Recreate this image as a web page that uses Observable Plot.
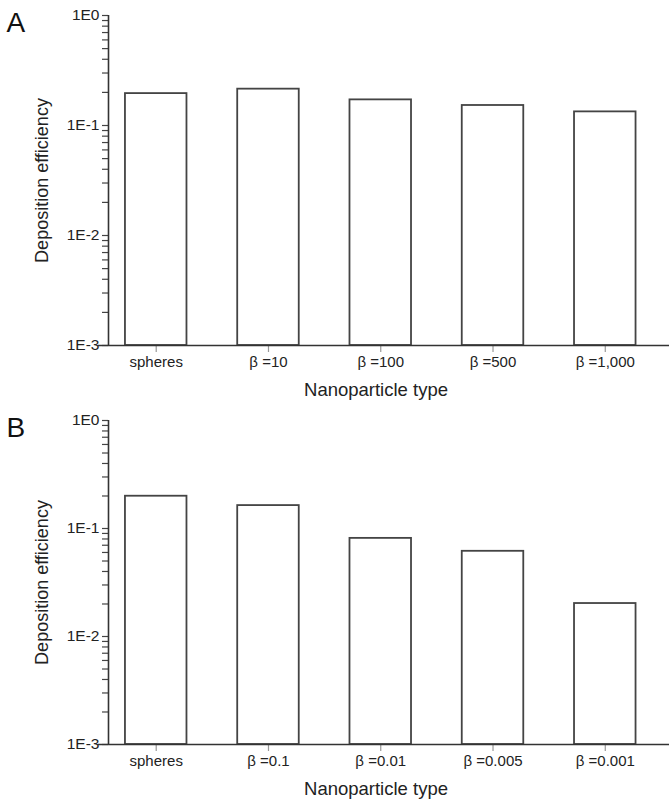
<!DOCTYPE html>
<html>
<head>
<meta charset="utf-8">
<script src="https://cdn.jsdelivr.net/npm/d3@7"></script>
<script src="https://cdn.jsdelivr.net/npm/@observablehq/plot@0.6"></script>
<style>
  body { margin: 0; background: #fff; width: 669px; height: 806px; position: relative; overflow: hidden; }
  .panel { position: absolute; left: 0; }
</style>
</head>
<body>
<div id="A" class="panel" style="top:0px"></div>
<div id="B" class="panel" style="top:405px"></div>
<script>
// ---- data ----
const labelsA = ["spheres", "β =10", "β =100", "β =500", "β =1,000"];
const valuesA = [0.195, 0.214, 0.171, 0.152, 0.133];
const labelsB = ["spheres", "β =0.1", "β =0.01", "β =0.005", "β =0.001"];
const valuesB = [0.199, 0.163, 0.081, 0.0615, 0.0202];
const majorTicks = [1, 0.1, 0.01, 0.001];
const majorLabels = ["1E0", "1E-1", "1E-2", "1E-3"];
const xTitle = "Nanoparticle type";
const yTitle = "Deposition efficiency";

const font = "'Liberation Sans', Arial, Helvetica, sans-serif";
const minorTicks = [];
for (const p of [0.001, 0.01, 0.1]) for (let m = 2; m <= 9; m++) minorTicks.push(+(m * p).toPrecision(3));

function panel(letter, labels, values, marginBottom) {
  const data = labels.map((l, i) => ({i, label: l, v: values[i]}));
  const half = 0.274;
  const xmin = -0.425;
  return Plot.plot({
    width: 669,
    height: 400,
    marginTop: 15,
    marginBottom,
    marginLeft: 108,
    marginRight: 0,
    style: {fontFamily: font, background: "#fff", color: "#222", overflow: "visible"},
    x: {type: "linear", domain: [xmin, 4.572], axis: null, label: null},
    y: {type: "log", domain: [0.001, 1], axis: null, label: null},
    marks: [
      Plot.rect(data, {x1: d => d.i - half, x2: d => d.i + half, y1: () => 0.001, y2: "v",
        fill: "#fff", stroke: "#444", strokeWidth: 1.8}),
      Plot.axisY({ticks: minorTicks, tickSize: 6, tickFormat: () => "", stroke: "#444", strokeWidth: 1.2, label: null}),
      Plot.axisY({ticks: majorTicks, tickSize: 6, tickPadding: 3, fontSize: 15.5,
        tickFormat: d => majorLabels[majorTicks.indexOf(d)], stroke: "#444", strokeWidth: 1.2, label: null}),
      Plot.axisX({ticks: labels.map((_, i) => i), tickSize: 7, tickPadding: 4, fontSize: 15,
        tickFormat: i => labels[i], stroke: "#999", strokeWidth: 1.2, label: null}),
      Plot.ruleX([xmin], {stroke: "#333", strokeWidth: 1.6}),
      Plot.ruleY([0.001], {stroke: "#333", strokeWidth: 1.6, insetLeft: -10}),
      Plot.text([yTitle], {frameAnchor: "left", rotate: -90, dx: -66.5, textAnchor: "middle", lineAnchor: "middle", fontSize: 18, fill: "#222"}),
      Plot.text([xTitle], {frameAnchor: "bottom", dx: -13, dy: 45, lineAnchor: "middle", fontSize: 18.5, fill: "#222"}),
      Plot.text([letter], {frameAnchor: "top-left", dx: -102, dy: 8, textAnchor: "start", lineAnchor: "middle", fontSize: 28, fill: "#111"})
    ]
  });
}

document.getElementById("A").append(panel("A", labelsA, valuesA, 55));
document.getElementById("B").append(panel("B", labelsB, valuesB, 61));
</script>
</body>
</html>
